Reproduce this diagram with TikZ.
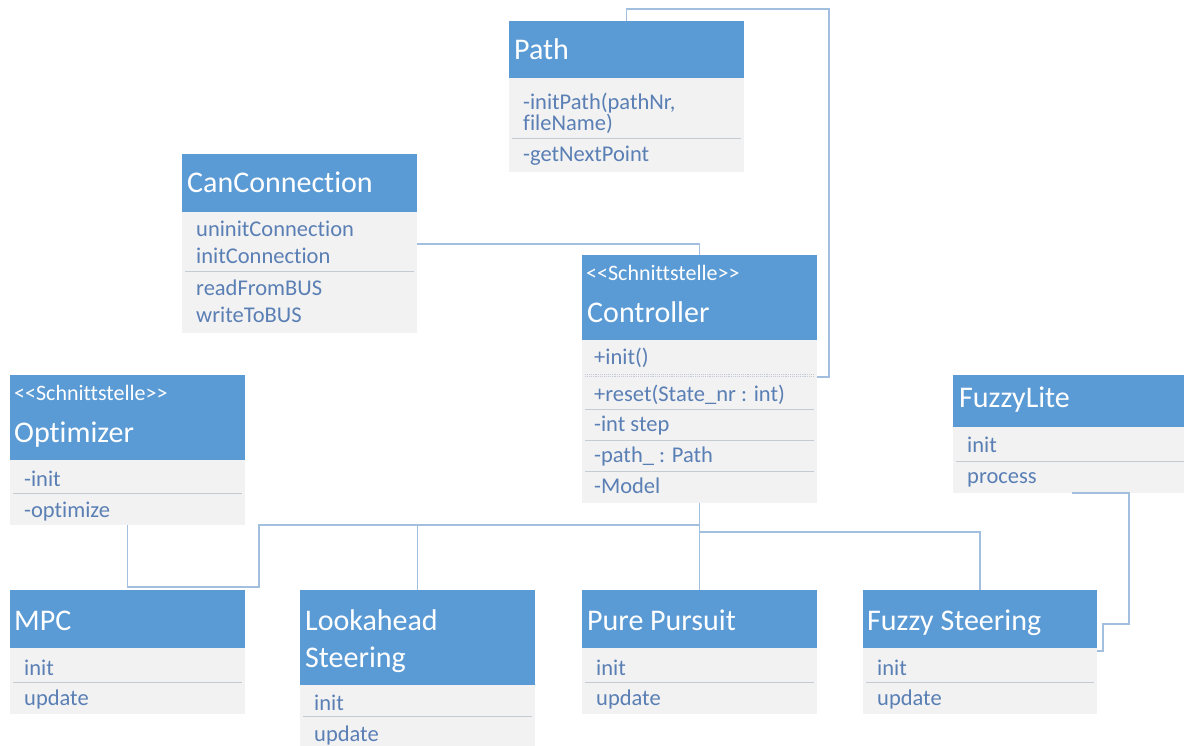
\documentclass[tikz,border=0pt]{standalone}
\usepackage{fontspec}
\setmainfont{Carlito}[Ligatures={TeXOff,NoCommon}]
\usetikzlibrary{calc}
\definecolor{hblue}{HTML}{5B9BD5}
\definecolor{bgray}{HTML}{F2F2F2}
\definecolor{itxt}{HTML}{5A7FB5}
\definecolor{sepc}{HTML}{C5CBD3}
\definecolor{wire}{HTML}{A3BFDF}
\tikzset{
  hdr/.style={fill=hblue, draw=none, inner sep=0pt, outer sep=0pt, anchor=north west},
  bdy/.style={fill=bgray, draw=none, inner sep=0pt, outer sep=0pt, anchor=north west},
  ttl/.style={anchor=base west, text=white, inner sep=0pt, font=\fontsize{30}{36}\selectfont},
  ster/.style={anchor=base west, text=white, inner sep=0pt, font=\fontsize{22}{26}\selectfont},
  itm/.style={anchor=base west, text=itxt, inner sep=0pt, font=\fontsize{22.5}{27}\selectfont},
  sepline/.style={draw=sepc, line width=1pt},
  wireline/.style={draw=wire, line width=1.1pt},
}
\begin{document}
\begin{tikzpicture}[x=1pt, y=-1pt]
\fill[white] (0,0) rectangle (1184,746);
\useasboundingbox (0,0) rectangle (1184,746);

% ---- Path
\node[hdr, minimum width=235, minimum height=57] (pathH) at (509,21) {};
\node[bdy, minimum width=235, minimum height=94] (pathB) at (509,78) {};
\node[ttl] (pathT) at (514,60) {Path};
\node[itm] (pathI1) at (523,110) {-initPath(pathNr,};
\node[itm] (pathI2) at (523,131) {fileName)};
\node[itm] (pathI3) at (523,162) {-getNextPoint};
\draw[sepline] (512,139) -- (741,139);

% ---- CanConnection
\node[hdr, minimum width=235, minimum height=58] (canH) at (182,154) {};
\node[bdy, minimum width=235, minimum height=121] (canB) at (182,212) {};
\node[ttl] (canT) at (187,193) {CanConnection};
\node[itm] (canI1) at (196,237) {uninitConnection};
\node[itm] (canI2) at (196,264) {initConnection};
\node[itm] (canI3) at (196,296) {readFromBUS};
\node[itm] (canI4) at (196,323) {writeToBUS};
\draw[sepline] (185,272) -- (414,272);

% ---- Controller
\node[hdr, minimum width=235, minimum height=85] (ctrlH) at (582,255) {};
\node[bdy, minimum width=235, minimum height=163] (ctrlB) at (582,340) {};
\node[ster] (ctrlS) at (586,280) {<<Schnittstelle>>};
\node[ttl] (ctrlT) at (587,322) {Controller};
\node[itm] (ctrlI1) at (594,364) {+init()};
\node[itm] (ctrlI2) at (594,401) {+reset(State\_nr : int)};
\node[itm] (ctrlI3) at (594,431) {-int step};
\node[itm] (ctrlI4) at (594,462) {-path\_ : Path};
\node[itm] (ctrlI5) at (594,493) {-Model};
\draw[sepc, line width=0.9pt, densely dotted] (585,374.3) -- (814,374.3);
\draw[sepc, line width=0.9pt, densely dotted] (585,376.7) -- (814,376.7);
\draw[sepline] (585,409) -- (814,409);
\draw[sepline] (585,440) -- (814,440);
\draw[sepline] (585,471) -- (814,471);

% ---- Optimizer
\node[hdr, minimum width=235, minimum height=85] (optH) at (10,375) {};
\node[bdy, minimum width=235, minimum height=65] (optB) at (10,460) {};
\node[ster] (optS) at (14,400) {<<Schnittstelle>>};
\node[ttl] (optT) at (14,442) {Optimizer};
\node[itm] (optI1) at (24,486) {-init};
\node[itm] (optI2) at (24,517) {-optimize};
\draw[sepline] (13,493) -- (242,493);

% ---- FuzzyLite
\node[hdr, minimum width=231, minimum height=52] (flH) at (953,375) {};
\node[bdy, minimum width=231, minimum height=66] (flB) at (953,427) {};
\node[ttl] (flT) at (959,407) {FuzzyLite};
\node[itm] (flI1) at (967,452) {init};
\node[itm] (flI2) at (967,483) {process};
\draw[sepline] (956,461) -- (1184,461);

% ---- MPC
\node[hdr, minimum width=235, minimum height=58] (mpcH) at (10,590) {};
\node[bdy, minimum width=235, minimum height=66] (mpcB) at (10,648) {};
\node[ttl] (mpcT) at (14,630) {MPC};
\node[itm] (mpcI1) at (24,675) {init};
\node[itm] (mpcI2) at (24,705) {update};
\draw[sepline] (13,682) -- (242,682);

% ---- Lookahead Steering
\node[hdr, minimum width=235, minimum height=95] (lookH) at (300,590) {};
\node[bdy, minimum width=235, minimum height=61] (lookB) at (300,685) {};
\node[ttl] (lookT1) at (305,630) {Lookahead};
\node[ttl] (lookT2) at (305,667) {Steering};
\node[itm] (lookI1) at (314,710) {init};
\node[itm] (lookI2) at (314,741) {update};
\draw[sepline] (303,716) -- (532,716);

% ---- Pure Pursuit
\node[hdr, minimum width=235, minimum height=58] (pureH) at (582,590) {};
\node[bdy, minimum width=235, minimum height=66] (pureB) at (582,648) {};
\node[ttl] (pureT) at (587,630) {Pure Pursuit};
\node[itm] (pureI1) at (596,675) {init};
\node[itm] (pureI2) at (596,705) {update};
\draw[sepline] (585,682) -- (814,682);

% ---- Fuzzy Steering
\node[hdr, minimum width=234, minimum height=58] (fuzH) at (863,590) {};
\node[bdy, minimum width=234, minimum height=66] (fuzB) at (863,648) {};
\node[ttl] (fuzT) at (867,630) {Fuzzy Steering};
\node[itm] (fuzI1) at (877,675) {init};
\node[itm] (fuzI2) at (877,705) {update};
\draw[sepline] (866,682) -- (1094,682);

% ---- connectors
\coordinate (ctrlTap) at (817,377);
\coordinate (canTap) at (417,244);
\coordinate (fuzTap) at (1097,651);
\coordinate (busA) at ($(ctrlB.south)+(0,22)$);
\coordinate (busB) at ($(ctrlB.south)+(0,29)$);

\draw[wireline] (pathH.north) |- (829,9) |- (ctrlTap);
\draw[wireline] (canTap) -| (ctrlH.north);
\draw[wireline] (ctrlB.south) -- (pureH.north);
\draw[wireline] (busA) -| (lookH.north);
\draw[wireline] (optB.south) |- (259,587) |- (busA);
\draw[wireline] (busB) -| (fuzH.north);
\draw[wireline] ([xshift=3pt]flB.south) -| (1129,624) -| (1103,651) -- (fuzTap);
\end{tikzpicture}
\end{document}
